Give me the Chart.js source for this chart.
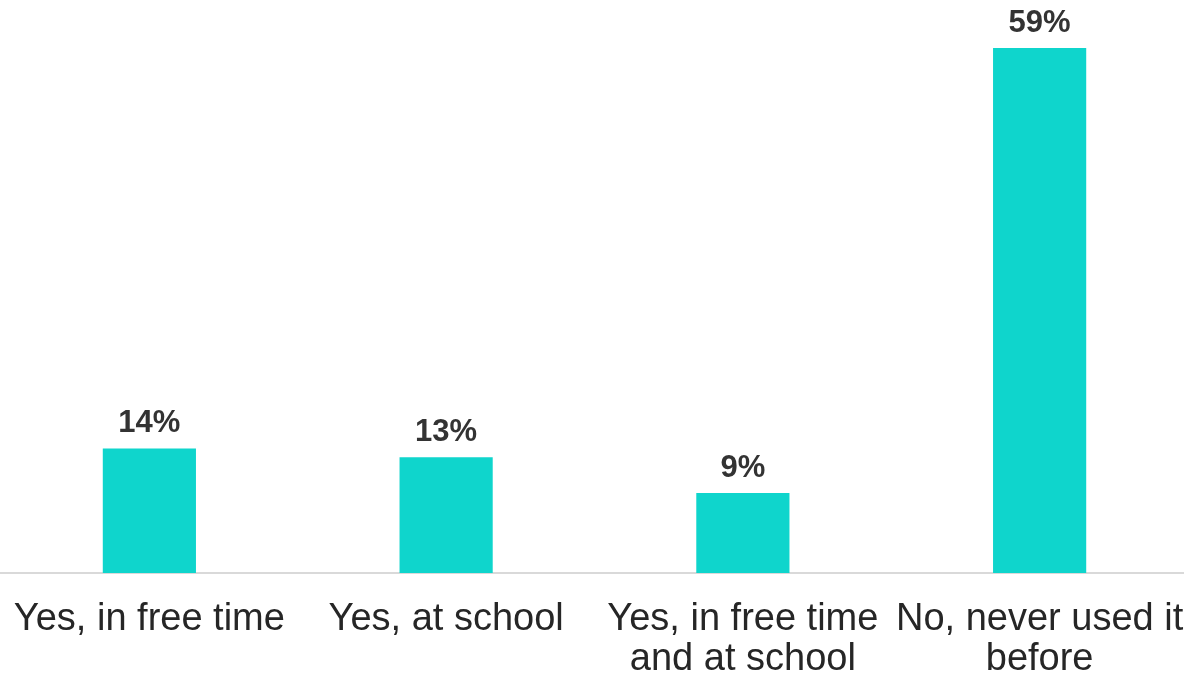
<!DOCTYPE html>
<html>
<head>
<meta charset="utf-8">
<script src="https://cdn.jsdelivr.net/npm/chart.js@4"></script>
<style>
  html, body { margin: 0; padding: 0; background: #fff; overflow: hidden; }
  #wrap { width: 1188px; height: 675px; }
</style>
</head>
<body>
<div id="wrap"><canvas id="chart"></canvas></div>
<script>
// Data
const categories = [
    'Yes, in free time',
    'Yes, at school',
    ['Yes, in free time', 'and at school'],
    ['No, never used it', 'before']
];
const shares = [14, 13, 9, 59];
const valueLabels = ['14%', '13%', '9%', '59%'];

// Simple value labels above bars (no datalabels plugin offline)
const barLabels = {
    id: 'barLabels',
    afterDatasetsDraw(chart) {
        const ctx = chart.ctx;
        const meta = chart.getDatasetMeta(0);
        ctx.save();
        ctx.font = 'bold 31px "Liberation Sans", Arial, sans-serif';
        ctx.fillStyle = '#333333';
        ctx.textAlign = 'center';
        ctx.textBaseline = 'alphabetic';
        meta.data.forEach((bar, i) => {
            ctx.fillText(valueLabels[i], bar.x, bar.y - 16);
        });
        ctx.restore();
    }
};

const ctx = document.getElementById('chart').getContext('2d');
new Chart(ctx, {
    type: 'bar',
    data: {
        labels: categories,
        datasets: [{
            data: shares,
            backgroundColor: '#0fd5cc',
            borderWidth: 0,
            barPercentage: 0.314,
            categoryPercentage: 1
        }]
    },
    options: {
        responsive: true,
        maintainAspectRatio: false,
        animation: false,
        layout: { padding: { top: 48, left: 1, right: 0, bottom: 0 } },
        plugins: {
            legend: { display: false },
            tooltip: { enabled: false }
        },
        scales: {
            x: {
                grid: { display: false, drawTicks: false },
                border: { display: true, color: '#d9d9d9', width: 2 },
                ticks: {
                    color: '#262626',
                    font: { family: '"Liberation Sans", Arial, sans-serif', size: 38, lineHeight: 1.05 },
                    padding: 27,
                    maxRotation: 0,
                    autoSkip: false
                },
                afterFit(scale) {
                    // keep the plot full width and the axis line at y=573
                    scale.paddingLeft = 0;
                    scale.paddingRight = 0;
                    scale.height = 102;
                }
            },
            y: {
                display: false,
                min: 0,
                max: 59
            }
        }
    },
    plugins: [barLabels]
});
</script>
</body>
</html>
